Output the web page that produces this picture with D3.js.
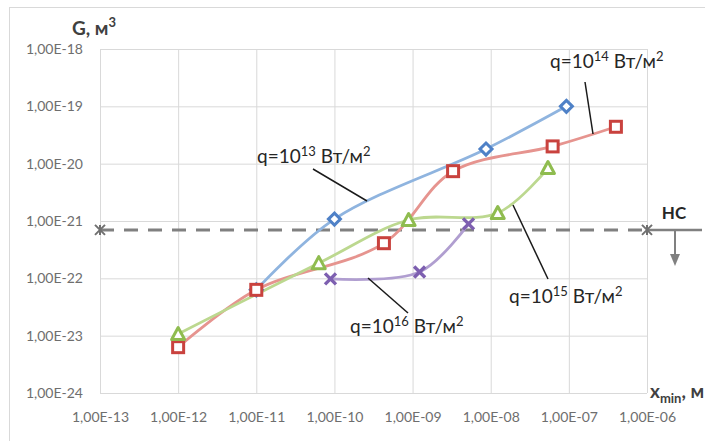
<!DOCTYPE html>
<html><head><meta charset="utf-8">
<script src="https://cdn.jsdelivr.net/npm/d3@7/dist/d3.min.js"></script>
<style>body{margin:0;background:#fff}svg{display:block}</style>
</head><body>
<svg id="c" width="705" height="441"></svg>
<script>
// ---- data ----
const xTicks = [1e-13,1e-12,1e-11,1e-10,1e-9,1e-8,1e-7,1e-6];
const xTickLabels = ["1,00E-13","1,00E-12","1,00E-11","1,00E-10","1,00E-09","1,00E-08","1,00E-07","1,00E-06"];
const yTicks = [1e-24,1e-23,1e-22,1e-21,1e-20,1e-19,1e-18];
const yTickLabels = ["1,00E-24","1,00E-23","1,00E-22","1,00E-21","1,00E-20","1,00E-19","1,00E-18"];

const q13X = [1e-11, 1.0e-10, 8.7e-9, 9.3e-8];
const q13Y = [6.3e-23, 1.08e-21, 1.8e-20, 1.0e-19];
const q14X = [1e-12, 1e-11, 4.3e-10, 3.3e-9, 6.2e-8, 4.0e-7];
const q14Y = [6.3e-24, 6.3e-23, 4.1e-22, 7.4e-21, 2.0e-20, 4.4e-20];
const q15X = [1e-12, 6.3e-11, 8.9e-10, 1.23e-8, 5.4e-8];
const q15Y = [1.07e-23, 1.84e-22, 1.04e-21, 1.38e-21, 8.4e-21];
const q16X = [8.9e-11, 1.23e-9, 5.2e-9];
const q16Y = [9.8e-23, 1.29e-22, 8.9e-22];

const hcLevel = 7.0e-22;
const hcLabel = "НС";

const series = [
  {name:"q13", xs:q13X, ys:q13Y, line:"#8fb4df", mark:"#4f81c7", shape:"diamond", exp:"13"},
  {name:"q14", xs:q14X, ys:q14Y, line:"#e6948f", mark:"#c9423e", shape:"square", exp:"14"},
  {name:"q15", xs:q15X, ys:q15Y, line:"#bcd88f", mark:"#8fbc4f", shape:"triangle", exp:"15"},
  {name:"q16", xs:q16X, ys:q16Y, line:"#b09ed0", mark:"#7d5fb0", shape:"cross", exp:"16"}
];

// ---- layout ----
const svg = d3.select("#c");
const x = d3.scaleLog().domain([1e-13,1e-6]).range([100,647]);
const y = d3.scaleLog().domain([1e-24,1e-18]).range([393,49]);
const FONT = "Lato, 'Open Sans', sans-serif";

svg.append("rect").attr("x",9.5).attr("y",7.5).attr("width",800).attr("height",500)
  .attr("fill","#fff").attr("stroke","#d9d9d9");

// gridlines + axes
const gx = svg.append("g").attr("transform",`translate(0,${y(1e-24)})`)
  .call(d3.axisBottom(x).tickValues(xTicks).tickSize(-(y(1e-24)-y(1e-18)))
    .tickFormat((d,i)=>xTickLabels[i]).tickPadding(19));
const gy = svg.append("g").attr("transform",`translate(${x(1e-13)},0)`)
  .call(d3.axisLeft(y).tickValues(yTicks).tickSize(-(x(1e-6)-x(1e-13)))
    .tickFormat((d,i)=>yTickLabels[i]).tickPadding(17));
[gx,gy].forEach(g=>{
  g.select(".domain").remove();
  g.selectAll(".tick line").attr("stroke","#d9d9d9").attr("stroke-width",1);
  g.selectAll(".tick text").attr("fill","#6e6e6e").style("font-family",FONT).style("font-size","14px");
});

// HC dashed line
const hy = y(hcLevel);
svg.append("line").attr("x1",x(1e-13)).attr("x2",x(1e-6)).attr("y1",hy).attr("y2",hy)
  .attr("stroke","#808080").attr("stroke-width",3).attr("stroke-dasharray","14,10");
svg.append("line").attr("x1",x(1e-6)).attr("x2",702).attr("y1",hy).attr("y2",hy)
  .attr("stroke","#808080").attr("stroke-width",2.5);
[x(1e-13), x(1e-6)].forEach(cx=>{
  const s=5;
  svg.append("path").attr("d",`M${cx-s},${hy-s}L${cx+s},${hy+s}M${cx-s},${hy+s}L${cx+s},${hy-s}M${cx},${hy-s}L${cx},${hy+s}`)
    .attr("stroke","#707070").attr("stroke-width",2);
});
const ax = 675;
svg.append("line").attr("x1",ax).attr("x2",ax).attr("y1",hy).attr("y2",hy+26)
  .attr("stroke","#808080").attr("stroke-width",2);
svg.append("path").attr("d",`M${ax-5},${hy+24}L${ax+5},${hy+24}L${ax},${hy+36}Z`).attr("fill","#808080");
svg.append("text").attr("x",674).attr("y",hy-11).attr("text-anchor","middle")
  .style("font-family",FONT).style("font-size","17px").style("font-weight","bold").attr("fill","#262626").text(hcLabel);

// lines
const line = d3.line().x(d=>x(d[0])).y(d=>y(d[1])).curve(d3.curveCatmullRom.alpha(0.5));
series.forEach(s=>{
  const pts = s.xs.map((v,i)=>[v,s.ys[i]]);
  svg.append("path").datum(pts).attr("d",line).attr("fill","none")
    .attr("stroke",s.line).attr("stroke-width",2.8);
});
// markers
series.forEach(s=>{
  s.xs.forEach((v,i)=>{
    const cx=x(v), cy=y(s.ys[i]);
    const g=svg.append("g").attr("transform",`translate(${cx},${cy})`);
    if(s.shape==="diamond"){
      g.append("path").attr("d","M0,-6L6,0L0,6L-6,0Z").attr("fill","#fff").attr("stroke",s.mark).attr("stroke-width",3);
    } else if(s.shape==="square"){
      g.append("rect").attr("x",-5.5).attr("y",-5.5).attr("width",11).attr("height",11)
        .attr("fill","#fff").attr("stroke",s.mark).attr("stroke-width",3);
    } else if(s.shape==="triangle"){
      g.append("path").attr("d","M0,-6.5L6.5,5.5L-6.5,5.5Z").attr("fill","#fff").attr("stroke",s.mark).attr("stroke-width",3).attr("stroke-linejoin","round");
    } else {
      g.append("path").attr("d","M-5.5,-5.5L5.5,5.5M-5.5,5.5L5.5,-5.5").attr("stroke",s.mark).attr("stroke-width",3.4);
    }
  });
});

// annotations
const ann = [
  {exp:"13", tx:257, ty:163, l:[313,169,367,201]},
  {exp:"14", tx:550, ty:68, l:[585,82,593,134]},
  {exp:"15", tx:509, ty:303, l:[513,205,548,279]},
  {exp:"16", tx:350, ty:333, l:[368,278,408,313]}
];
ann.forEach(a=>{
  svg.append("line").attr("x1",a.l[0]).attr("y1",a.l[1]).attr("x2",a.l[2]).attr("y2",a.l[3])
    .attr("stroke","#1a1a1a").attr("stroke-width",1.5);
  const t=svg.append("text").attr("x",a.tx).attr("y",a.ty).attr("fill","#262626")
    .style("font-family",FONT).style("font-size","19px");
  t.append("tspan").text("q=10");
  t.append("tspan").attr("dy",-7).style("font-size","13px").text(a.exp);
  t.append("tspan").attr("dy",7).text(" Вт/м");
  t.append("tspan").attr("dy",-7).style("font-size","13px").text("2");
});

// axis titles
const gt = svg.append("text").attr("x",72).attr("y",35).attr("fill","#404040")
  .style("font-family",FONT).style("font-size","19px").style("font-weight","bold");
gt.append("tspan").text("G, м");
gt.append("tspan").attr("dy",-8).style("font-size","13px").text("3");
const xt = svg.append("text").attr("x",650).attr("y",398).attr("fill","#404040")
  .style("font-family",FONT).style("font-size","19px").style("font-weight","bold");
xt.append("tspan").text("x");
xt.append("tspan").attr("dy",5).style("font-size","13px").text("min");
xt.append("tspan").attr("dy",-5).text(", м");
</script>
</body></html>
